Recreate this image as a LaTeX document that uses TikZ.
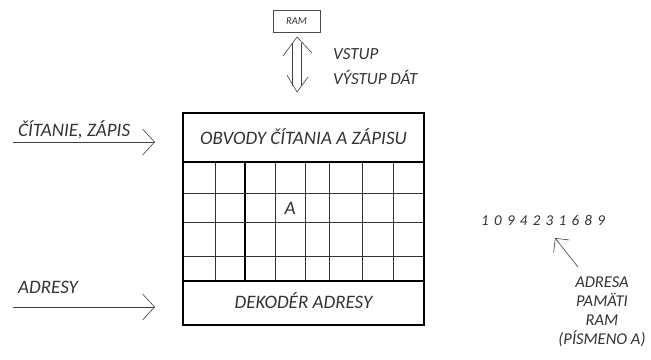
\documentclass[tikz,border=0pt]{standalone}
\usepackage{fontspec}
\setmainfont{Carlito}
\usetikzlibrary{arrows.meta}
\begin{document}
\begin{tikzpicture}[x=1pt,y=-1pt,
  txt/.style={inner sep=0pt,text=black!80,font=\itshape},
  big/.style={txt,font=\itshape\fontsize{19}{22}\selectfont},
  mid/.style={txt,font=\itshape\fontsize{17}{20}\selectfont},
  thin arrow/.style={draw=black!75,line width=0.6pt},
  barb/.style={-{Straight Barb[length=12pt,width=26pt,line width=0.6pt]}},
  frame/.style={draw=black,line width=2pt},
  gridline/.style={draw=black!80,line width=0.7pt}]
\useasboundingbox (0,0) rectangle (651,359);
% RAM box
\node[draw=black!70,line width=0.6pt,minimum width=47pt,minimum height=22pt,inner sep=0pt,
  font=\itshape\fontsize{10.5}{12}\selectfont,text=black!80] (ram) at (296.5,21) {RAM};
% double arrow
\coordinate (dt) at (297,37);
\coordinate (db) at (297,92);
\draw[thin arrow] ([shift={(-4.5,6)}]dt) -- ([shift={(-4.5,-6)}]db);
\draw[thin arrow] ([shift={(4.5,6)}]dt) -- ([shift={(4.5,-6)}]db);
\draw[thin arrow] ([shift={(-14,19)}]dt) -- (dt) -- ([shift={(15,16)}]dt);
\draw[thin arrow] ([shift={(-10,-17)}]db) -- (db) -- ([shift={(11,-15)}]db);
\node[mid,anchor=base west] (vstup) at (333,59) {VSTUP};
\node[mid,anchor=base west] (vystup) at (333,84) {VÝSTUP DÁT};
% main box
\coordinate (tl) at (183,113);
\coordinate (br) at (424,325);
\foreach \x in {215,275,305,329,362,393}{\draw[gridline] (\x,162) -- (\x,281);}
\draw[draw=black,line width=1.3pt] (245,162) -- (245,281);
\foreach \y in {193,222,256}{\draw[gridline] (183,\y) -- (424,\y);}
\draw[frame] (183,162) -- (424,162);
\draw[frame] (183,281) -- (424,281);
\draw[frame] (tl) rectangle (br);
\node[big,anchor=base] (obvody) at (303.5,144) {OBVODY ČÍTANIA A ZÁPISU};
\node[big,anchor=base] (dek) at (303.5,308) {DEKODÉR ADRESY};
\node[big,anchor=base] (a) at (290,214) {A};
% left inputs
\node[big,anchor=base west] (cit) at (18,136) {ČÍTANIE, ZÁPIS};
\coordinate (c1) at (13,142);
\coordinate (c2) at (155,142);
\draw[thin arrow,barb] (c1) -- (c2);
\node[big,anchor=base west] (adr) at (18,293) {ADRESY};
\coordinate (a1) at (13,307);
\coordinate (a2) at (155,307);
\draw[thin arrow,barb] (a1) -- (a2);
% right side
\node[txt,anchor=west,font=\itshape\fontsize{15}{17}\selectfont] (num) at (481,220)
  {1\kern5.3pt 0\kern5.3pt 9\kern5.3pt 4\kern5.3pt 2\kern5.3pt 3\kern5.3pt 1\kern5.3pt 6\kern5.3pt 8\kern5.3pt 9};
\node[txt,align=center,anchor=north,font=\itshape\fontsize{16.5}{19}\selectfont] (lbl) at (602,277)
  {ADRESA\\PAMÄTI\\RAM\\(PÍSMENO A)};
\coordinate (p1) at (578,267);
\coordinate (p2) at (555,238);
\draw[thin arrow,-{Straight Barb[length=10pt,width=20pt,line width=0.6pt]}] (p1) -- (p2);
\end{tikzpicture}
\end{document}
